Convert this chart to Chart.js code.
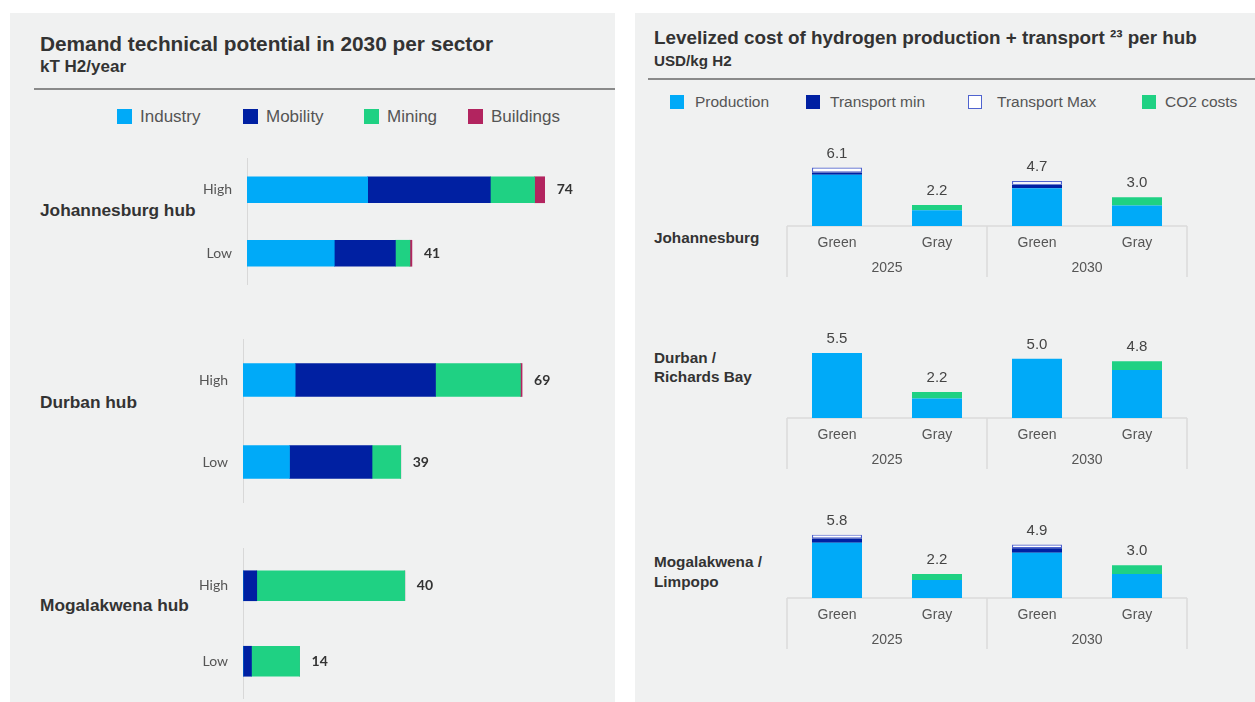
<!DOCTYPE html>
<html>
<head>
<meta charset="utf-8">
<script src="https://cdn.jsdelivr.net/npm/chart.js@4.4.1/dist/chart.umd.min.js"></script>
<style>
  html, body { margin: 0; padding: 0; background: #ffffff; }
  body { width: 1255px; height: 702px; position: relative; overflow: hidden;
         font-family: "Liberation Sans", Arial, sans-serif; }
  .panel { position: absolute; background: #f0f1f1; }
  .t { position: absolute; white-space: nowrap; }
  .rule { position: absolute; height: 2px; background: #8a8a8a; }
  .sw { position: absolute; box-sizing: border-box; }
  canvas { position: absolute; }
</style>
</head>
<body>
<div class="panel" style="left:10px;top:13px;width:605px;height:689px"></div>
<div class="panel" style="left:635px;top:13px;width:620px;height:689px"></div>
<div class="rule" style="left:34px;top:88px;width:581px"></div>
<div class="rule" style="left:648px;top:78px;width:607px"></div>

<script>
// ---- Demand technical potential in 2030 (kT H2/year) ----
const hubLevels = ['High', 'Low'];
const demandSectors = ['Industry', 'Mobility', 'Mining', 'Buildings'];
// rows: Industry, Mobility, Mining, Buildings; columns: High, Low
const johannesburgDemand = [[30, 21.7], [30.5, 15.2], [11, 3.6], [2.5, 0.5]];
const durbanDemand       = [[12.9, 11.5], [34.7, 20.4], [21, 7.1], [0.4, 0]];
const mogalakwenaDemand  = [[0, 0], [3.4, 2.1], [36.6, 11.9], [0, 0]];

// ---- Levelized cost of hydrogen (USD/kg H2) ----
const costCategories = ['Green', 'Gray', 'Green', 'Gray'];
const costYears = ['2025', '2030'];
const costComponents = ['Production', 'Transport min', 'Transport Max', 'CO2 costs'];
// rows: Production, Transport min, Transport Max, CO2 costs; columns: 2025 Green, 2025 Gray, 2030 Green, 2030 Gray
const johannesburgCost = [[5.35, 1.65, 3.95, 2.15], [0.25, null, 0.35, null], [0.5, null, 0.4, null], [null, 0.55, null, 0.85]];
const durbanCost       = [[5.5, 1.65, 5.0, 4.05], [null, null, null, null], [null, null, null, null], [null, 0.55, null, 0.75]];
const mogalakwenaCost  = [[5.05, 1.65, 4.15, 2.2], [0.4, null, 0.4, null], [0.35, null, 0.35, null], [null, 0.55, null, 0.8]];

const sectorColors = ['#00aaf8', '#0020a2', '#1fd183', '#b2245f'];
const componentFill = ['#00aaf8', '#0020a2', '#ffffff', '#1fd183'];
const componentBorder = ['#00aaf8', '#0020a2', '#4f63cf', '#1fd183'];

function addText(txt, x, cy, size, weight, color, family) {
  const d = document.createElement('div');
  d.className = 't';
  d.textContent = txt;
  d.style.left = x + 'px';
  d.style.top = (cy - size * 0.49) + 'px';
  d.style.fontSize = size + 'px';
  d.style.lineHeight = size + 'px';
  d.style.fontWeight = weight;
  d.style.color = color;
  if (family) d.style.fontFamily = family;
  document.body.appendChild(d);
}
function addSwatch(x, y, s, fill, border) {
  const d = document.createElement('div');
  d.className = 'sw';
  d.style.cssText = `left:${x}px;top:${y}px;width:${s}px;height:${s}px;background:${fill};` +
    (border ? `border:1.5px solid ${border};` : '');
  document.body.appendChild(d);
}
function addCanvas(x, y, w, h) {
  const c = document.createElement('canvas');
  c.width = w; c.height = h;
  c.style.left = x + 'px'; c.style.top = y + 'px';
  c.style.width = w + 'px'; c.style.height = h + 'px';
  document.body.appendChild(c);
  return c;
}

// Titles, units and legends
addText('Demand technical potential in 2030 per sector', 40, 43.7, 20.8, 'bold', '#333');
addText('kT H2/year', 40, 66.3, 17, 'bold', '#333');
addText('Levelized cost of hydrogen production + transport \u00b2\u00b3 per hub', 654, 38.3, 18.85, 'bold', '#333');
addText('USD/kg H2', 654, 60.5, 15.2, 'bold', '#333');

const leftLegendX = [[117, 140], [243, 266], [364, 387], [468, 491]];
demandSectors.forEach((name, i) => {
  addSwatch(leftLegendX[i][0], 109, 15, sectorColors[i]);
  addText(name, leftLegendX[i][1], 116.5, 17, 'normal', '#555');
});
const rightLegendX = [[670, 695], [806, 830], [968, 997], [1142, 1165]];
costComponents.forEach((name, i) => {
  if (i === 2) addSwatch(rightLegendX[i][0], 95, 14, '#ffffff', componentBorder[i]);
  else addSwatch(rightLegendX[i][0], 95, 14, componentFill[i]);
  addText(name, rightLegendX[i][1], 102, 15.5, 'normal', '#555');
});

addText('Johannesburg hub', 40, 210.5, 17.3, 'bold', '#333');
addText('Durban hub', 40, 402, 17.3, 'bold', '#333');
addText('Mogalakwena hub', 40, 605, 17.3, 'bold', '#333');
addText('Johannesburg', 654, 237.7, 15.3, 'bold', '#333');
addText('Durban /', 654, 357.7, 15.3, 'bold', '#333');
addText('Richards Bay', 654, 376.7, 15.3, 'bold', '#333');
addText('Mogalakwena /', 654, 561.7, 15.3, 'bold', '#333');
addText('Limpopo', 654, 581, 15.3, 'bold', '#333');

const sumAt = (chart, i) => chart.data.datasets.reduce((s, d) => s + (d.data[i] || 0), 0);

// Totals printed to the right of each horizontal stack
const demandTotals = {
  id: 'demandTotals',
  afterDatasetsDraw(chart) {
    const { ctx, scales: { x, y } } = chart;
    ctx.save();
    ctx.font = 'bold 14px Lato';
    ctx.fillStyle = '#333';
    ctx.textAlign = 'left';
    ctx.textBaseline = 'middle';
    chart.data.labels.forEach((_, i) => {
      const total = sumAt(chart, i);
      ctx.fillText(String(Math.round(total)), x.getPixelForValue(total) + 12, y.getPixelForValue(i));
    });
    ctx.restore();
  }
};

function demandChart(data, box) {
  const W = box.axisW + box.plotW;
  const cv = addCanvas(box.left, box.top, W, box.h);
  return new Chart(cv.getContext('2d'), {
    type: 'bar',
    data: {
      labels: hubLevels,
      datasets: demandSectors.map((name, i) => ({
        label: name, data: data[i], backgroundColor: sectorColors[i],
        borderWidth: 0, barThickness: box.bar
      }))
    },
    options: {
      indexAxis: 'y', responsive: false, animation: false, devicePixelRatio: 1,
      layout: { padding: 0, autoPadding: false },
      plugins: { legend: { display: false }, tooltip: { enabled: false } },
      scales: {
        x: { stacked: true, display: false, min: 0, max: 90 },
        y: {
          stacked: true,
          grid: { display: false, drawTicks: false },
          border: { display: true, color: '#d8d8d8', width: 1 },
          ticks: { padding: 15, color: '#555', font: { family: 'Lato', size: 14 } },
          // fixed axis width; the axis spans the full canvas height
          afterFit: s => { s.width = box.axisW; s.paddingTop = 0; s.paddingBottom = 0; }
        }
      }
    },
    plugins: [demandTotals]
  });
}

demandChart(johannesburgDemand, { left: 150, top: 158, h: 127, axisW: 97, plotW: 362, bar: 26 });
demandChart(durbanDemand,       { left: 150, top: 339, h: 164, axisW: 93, plotW: 364, bar: 33 });
demandChart(mogalakwenaDemand,  { left: 150, top: 548, h: 151, axisW: 93, plotW: 364, bar: 30 });

// Category frame, two-level labels and totals for the cost charts
const costFrame = {
  id: 'costFrame',
  beforeDatasetsDraw(chart) {
    const { ctx, chartArea: a } = chart;
    const base = a.bottom;
    ctx.save();
    ctx.strokeStyle = '#dadada';
    ctx.lineWidth = 1.5;
    ctx.beginPath();
    ctx.moveTo(a.left, base); ctx.lineTo(a.right, base);
    [a.left, (a.left + a.right) / 2, a.right].forEach(px => {
      ctx.moveTo(px, base); ctx.lineTo(px, base + 51);
    });
    ctx.stroke();
    ctx.restore();
  },
  afterDraw(chart) {
    const { ctx, chartArea: a, scales: { x, y } } = chart;
    const base = a.bottom;
    ctx.save();
    ctx.textAlign = 'center';
    ctx.textBaseline = 'middle';
    ctx.fillStyle = '#555';
    ctx.font = '14px "Liberation Sans"';
    chart.data.labels.forEach((lab, i) => ctx.fillText(lab, x.getPixelForValue(i), base + 17.5));
    costYears.forEach((yr, g) => {
      const cx = (x.getPixelForValue(2 * g) + x.getPixelForValue(2 * g + 1)) / 2;
      ctx.fillText(yr, cx, base + 42.5);
    });
    ctx.fillStyle = '#444';
    ctx.font = '15px "Liberation Sans"';
    chart.data.labels.forEach((_, i) => {
      const total = sumAt(chart, i);
      ctx.fillText(total.toFixed(1), x.getPixelForValue(i), y.getPixelForValue(total) - 14);
    });
    ctx.restore();
  }
};

function costChart(data, box) {
  const padTop = 30, padBottom = 55;
  const cv = addCanvas(782, box.base - box.h - padTop, 410, box.h + padTop + padBottom);
  return new Chart(cv.getContext('2d'), {
    type: 'bar',
    data: {
      labels: costCategories,
      datasets: costComponents.map((name, i) => ({
        label: name, data: data[i],
        backgroundColor: componentFill[i],
        borderColor: componentBorder[i],
        borderWidth: i === 2 ? 1.2 : 0,
        borderSkipped: false,
        barPercentage: 0.5, categoryPercentage: 1
      }))
    },
    options: {
      responsive: false, animation: false, devicePixelRatio: 1,
      layout: { padding: { left: 5, right: 5, top: padTop, bottom: padBottom } },
      plugins: { legend: { display: false }, tooltip: { enabled: false } },
      scales: {
        x: { stacked: true, display: false },
        y: { stacked: true, display: false, min: 0, max: box.ymax }
      }
    },
    plugins: [costFrame]
  });
}

costChart(johannesburgCost, { base: 226, h: 67, ymax: 7 });
costChart(durbanCost,       { base: 418, h: 71, ymax: 6 });
costChart(mogalakwenaCost,  { base: 598, h: 71, ymax: 6.5 });
</script>
</body>
</html>
